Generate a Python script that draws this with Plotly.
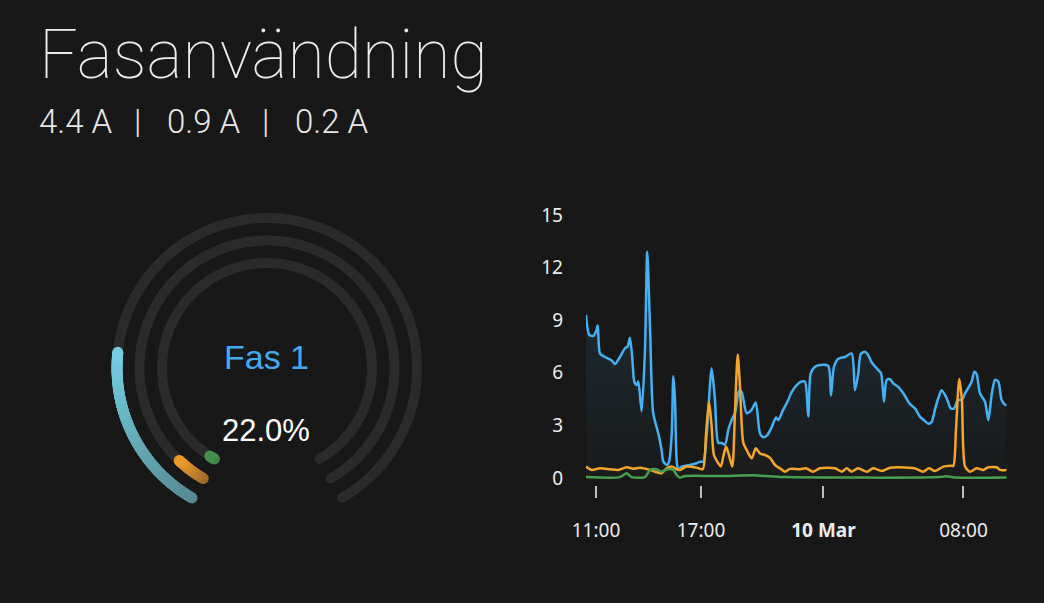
import numpy as np
import pandas as pd
import plotly.graph_objects as go

W, H = 1044, 603
BG = '#181818'

# phase currents (A) and gauge max
PHASES = ['Fas 1', 'Fas 2', 'Fas 3']
phase_current = [4.4, 0.9, 0.2]
GAUGE_MAX = 20.0

# history, hours counted from 9 Mar 00:00
blue_h = [10.43, 10.62, 10.85, 11.0, 11.10, 11.23, 11.51, 11.90, 12.09, 12.37, 12.66, 12.81,
          12.94, 13.07, 13.19, 13.33, 13.42, 13.61, 13.80, 13.93, 14.09, 14.27, 14.56, 14.75,
          14.85, 15.07, 15.19, 15.33, 15.42, 15.51, 15.61, 15.70, 15.90, 16.37, 16.75, 16.94,
          17.13, 17.33, 17.61, 17.80, 17.99, 18.18, 18.37, 18.56, 18.75, 18.94, 19.19, 19.33,
          19.61, 19.90, 20.13, 20.37, 20.56, 20.79, 21.04, 21.29, 21.42, 21.70, 21.99, 22.18,
          22.47, 22.75, 22.94, 23.13, 23.27, 23.51, 23.80, 24.27, 24.43, 24.60, 24.85, 25.23,
          25.61, 25.80, 25.99, 26.13, 26.37, 26.56, 26.75, 27.13, 27.29, 27.46, 27.61, 27.80,
          27.99, 28.27, 28.56, 28.94, 29.23, 29.51, 29.74, 29.99, 30.18, 30.37, 30.56, 30.75,
          31.04, 31.27, 31.47, 31.67, 31.90, 32.09, 32.37, 32.47, 32.62, 32.75, 32.94, 33.23,
          33.42, 33.61, 33.80, 33.99, 34.18, 34.40, 34.47]
blue_v = [9.3, 8.16, 8.1, 8.35, 8.7, 7.1, 6.9, 6.7, 6.5, 6.9, 7.4, 7.5,
          8.0, 6.9, 5.5, 5.3, 5.5, 3.8, 7.3, 12.9, 8.6, 3.7, 2.55, 1.6,
          0.93, 0.74, 1.0, 2.55, 5.8, 4.6, 1.0, 0.45, 0.65, 0.74, 0.84, 0.93,
          0.93, 2.55, 6.26, 4.45, 2.0, 2.0, 1.9, 2.74, 3.3, 3.7, 5.0, 4.9,
          3.7, 3.9, 4.3, 2.55, 2.32, 2.45, 2.9, 3.45, 3.3, 3.9, 4.45, 4.9,
          5.3, 5.5, 5.5, 3.5, 5.97, 6.35, 6.45, 6.4, 4.7, 6.35, 6.8, 6.9,
          7.1, 5.0, 5.97, 7.07, 7.2, 7.0, 6.6, 6.16, 5.97, 4.35, 5.6, 5.63,
          5.4, 5.2, 4.83, 4.22, 3.97, 3.5, 3.3, 3.1, 3.2, 3.9, 4.55, 5.0,
          4.55, 3.97, 3.97, 4.45, 4.45, 4.83, 5.3, 5.5, 6.06, 5.93, 4.83, 4.35,
          3.3, 4.73, 5.6, 5.5, 4.45, 4.16, 4.16]

orange_h = [10.43, 10.75, 11.23, 11.80, 12.27, 12.75, 13.13, 13.51, 14.09, 14.37, 14.75, 15.04,
            15.33, 15.61, 15.80, 16.18, 16.75, 17.10, 17.29, 17.46, 17.61, 17.74, 17.99, 18.13,
            18.27, 18.43, 18.60, 18.79, 18.94, 19.10, 19.23, 19.42, 19.61, 19.90, 20.13, 20.37,
            20.66, 20.94, 21.23, 21.51, 21.80, 22.09, 22.66, 23.00, 23.40, 23.80, 24.66, 25.04,
            25.33, 25.61, 25.97, 26.49, 26.83, 27.34, 27.80, 28.66, 29.23, 29.69, 30.03, 30.37,
            30.85, 31.23, 31.42, 31.57, 31.76, 31.91, 32.09, 32.37, 32.75, 33.13, 33.42, 33.90,
            34.09, 34.47]
orange_v = [0.65, 0.46, 0.55, 0.5, 0.46, 0.61, 0.53, 0.59, 0.46, 0.36, 0.27, 0.55,
            0.65, 0.5, 0.46, 0.65, 0.59, 0.5, 2.55, 4.35, 2.93, 1.31, 0.84, 0.65,
            1.2, 1.79, 1.31, 0.65, 3.7, 7.05, 5.2, 2.0, 1.6, 1.12, 1.69, 1.4,
            1.31, 1.15, 0.74, 0.55, 0.36, 0.52, 0.5, 0.55, 0.36, 0.55, 0.55, 0.36,
            0.55, 0.36, 0.55, 0.36, 0.55, 0.4, 0.58, 0.6, 0.55, 0.36, 0.55, 0.4,
            0.65, 0.7, 0.7, 2.74, 5.65, 4.45, 0.65, 0.36, 0.55, 0.46, 0.61, 0.61,
            0.46, 0.46]

green_h = [10.43, 12.37, 12.75, 13.04, 13.80, 14.09, 14.47, 14.75, 15.04, 15.42, 15.61, 15.80,
           16.09, 18.09, 19.97, 20.94, 21.80, 30.66, 31.00, 31.51, 34.47]
green_v = [0.05, 0.05, 0.27, 0.05, 0.05, 0.46, 0.5, 0.36, 0.5, 0.46, 0.17, 0.02,
           0.11, 0.11, 0.15, 0.1, 0.05, 0.05, 0.1, 0.03, 0.03]

y_ticks = [0, 3, 6, 9, 12, 15]
x_tick_h = [11, 17, 24, 32]
x_tick_text = ['11:00', '17:00', '<b>10 Mar</b>', '08:00']
x_range_h = [10.43, 34.47]

LINE_COLORS = ['#45b0f2', '#f5a52a', '#47a04d']
ARC_SCALES = [
    [[0, '#578893'], [1, '#74cde0']],
    [[0, '#9c6a2c'], [1, '#eb982a']],
    [[0, '#3c8549'], [1, '#43914f']],
]
RADII = [150, 127.5, 105]
TRACK = '#2b2b2b'

t0 = pd.Timestamp('2024-03-09')


def to_time(hours):
    return t0 + pd.to_timedelta(np.asarray(hours), unit='h')


def px_x(x):
    return x / W


def px_y(y):
    return 1 - y / H


fig = go.Figure()

# ---- gauge (polar)
start, span = 210, 300
for r, cur, scale in zip(RADII, phase_current, ARC_SCALES):
    th = np.linspace(start, start + span, 301)
    fig.add_trace(go.Scatterpolar(r=np.full(th.size, r), theta=th, mode='lines',
                                  line=dict(color=TRACK, width=10),
                                  hoverinfo='skip', showlegend=False))
    fig.add_trace(go.Scatterpolar(r=[r, r], theta=[start, start + span], mode='markers',
                                  marker=dict(color=TRACK, size=10, line_width=0),
                                  hoverinfo='skip', showlegend=False))
    end = start + span * cur / GAUGE_MAX
    n = max(int((end - start) * 3), 2)
    th = np.linspace(start, end, n)
    fig.add_trace(go.Scatterpolar(r=np.full(n, r), theta=th, mode='markers',
                                  marker=dict(size=11, color=np.linspace(0, 1, n),
                                              colorscale=scale, cmin=0, cmax=1,
                                              line_width=0),
                                  hoverinfo='skip', showlegend=False))

# ---- history chart
series = [(blue_h, blue_v, 0.16), (orange_h, orange_v, 0.05), (green_h, green_v, 0.08)]
for (hh, vv, alpha), col in zip(series, LINE_COLORS):
    rgb = tuple(int(col[i:i + 2], 16) for i in (1, 3, 5))
    fig.add_trace(go.Scatter(
        x=to_time(hh), y=vv, mode='lines',
        line=dict(color=col, width=2.5, shape='spline', smoothing=0.7),
        fill='tozeroy',
        fillgradient=dict(type='vertical', colorscale=[
            [0, 'rgba(%d,%d,%d,0.01)' % rgb], [1, 'rgba(%d,%d,%d,%.2f)' % (rgb + (alpha,))]]),
        hoverinfo='skip', showlegend=False))

fig.update_layout(
    width=W, height=H, autosize=False,
    paper_bgcolor=BG, plot_bgcolor=BG,
    margin=dict(l=0, r=0, t=0, b=0, autoexpand=False),
    polar=dict(
        domain=dict(x=[px_x(267 - 165), px_x(267 + 165)], y=[px_y(368 + 165), px_y(368 - 165)]),
        bgcolor='rgba(0,0,0,0)',
        radialaxis=dict(range=[0, 165], visible=False),
        angularaxis=dict(visible=False, rotation=90, direction='clockwise'),
    ),
    xaxis=dict(
        domain=[px_x(586), px_x(1006.7)],
        range=list(to_time(x_range_h)),
        tickvals=list(to_time(x_tick_h)), ticktext=x_tick_text,
        ticks='outside', ticklen=12, tickwidth=2, tickcolor='#bdbdbd',
        ticklabelstandoff=16,
        tickfont=dict(family='Noto Sans', size=19, color='#ececec'),
        showgrid=False, zeroline=False, showline=False,
    ),
    yaxis=dict(
        domain=[px_y(485), px_y(215)],
        range=[-0.4, 15],
        tickvals=y_ticks,
        ticklabelstandoff=22,
        tickfont=dict(family='Noto Sans', size=19, color='#ececec'),
        showgrid=False, zeroline=False, showline=False,
    ),
)

# ---- texts
fig.add_annotation(text='Fasanvändning', x=px_x(37), y=px_y(13), xref='paper', yref='paper',
                   xanchor='left', yanchor='top', showarrow=False,
                   font=dict(family='Roboto', size=68, weight=100, color='#ececec'))

sub_x = [37, 165, 293]
for i, (cur, x) in enumerate(zip(phase_current, sub_x)):
    fig.add_annotation(text='%.1f A' % cur, x=px_x(x), y=px_y(100), xref='paper', yref='paper',
                       xanchor='left', yanchor='top', showarrow=False,
                       font=dict(family='Roboto', size=33, weight=300, color='#e8e8e8'))
    if i < 2:
        fig.add_annotation(text='|', x=px_x(x + 100), y=px_y(100), xref='paper', yref='paper',
                           xanchor='center', yanchor='top', showarrow=False,
                           font=dict(family='Roboto', size=33, weight=300, color='#e8e8e8'))

pct = phase_current[0] / GAUGE_MAX * 100
fig.add_annotation(text=PHASES[0], x=px_x(266), y=px_y(336), xref='paper', yref='paper',
                   xanchor='center', yanchor='top', showarrow=False,
                   font=dict(family='Liberation Sans', size=34, color='#44aaf0'))
fig.add_annotation(text='%.1f%%' % pct, x=px_x(266), y=px_y(411), xref='paper', yref='paper',
                   xanchor='center', yanchor='top', showarrow=False,
                   font=dict(family='Liberation Sans', size=31, color='#ffffff'))

# page has a default body margin; remove it so the figure sits at the window origin
fig.write_html('out.html', config={'responsive': False, 'displayModeBar': False},
               post_script="document.body.style.margin='0';"
                           "document.body.style.overflow='hidden';"
                           "document.body.style.background='%s';" % BG)
